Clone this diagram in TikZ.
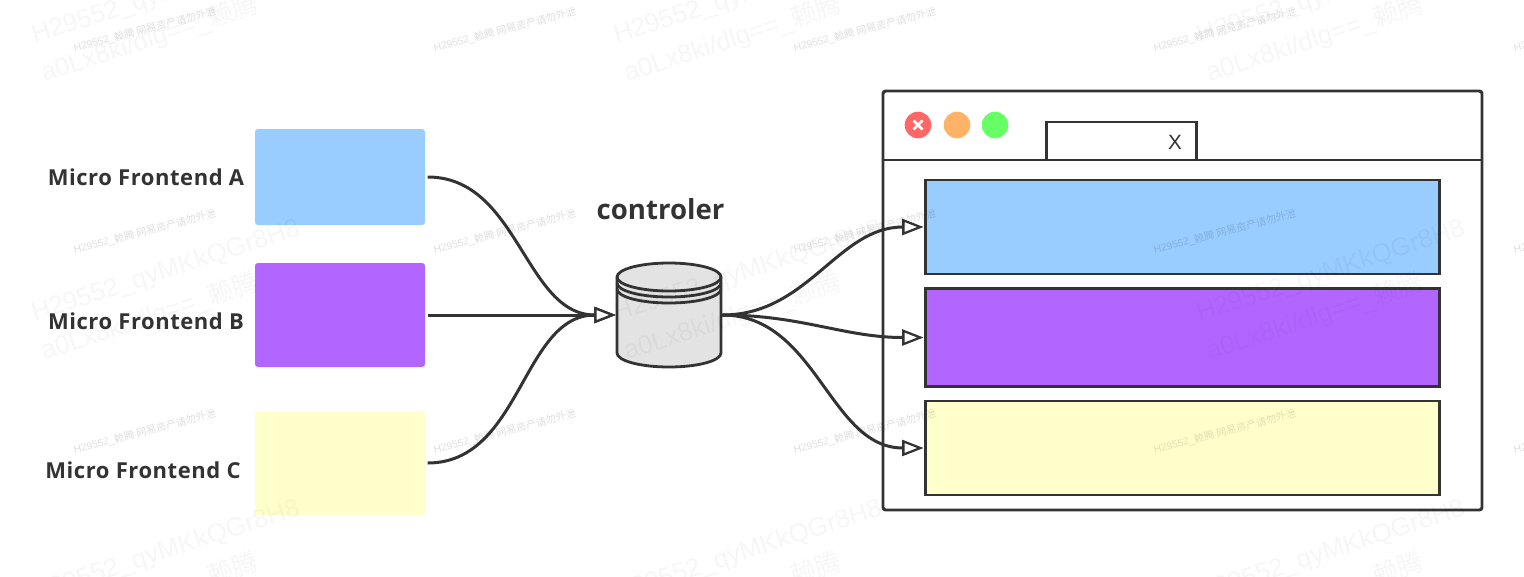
\documentclass[tikz,border=0pt]{standalone}
\usepackage{fontspec}
\setmainfont{Open Sans}
\newfontfamily\wmfont{Liberation Sans}
\newfontfamily\cjk{Noto Sans CJK SC}
\usetikzlibrary{arrows.meta}
\definecolor{linegray}{HTML}{333333}
\definecolor{mfblue}{HTML}{99CCFF}
\definecolor{mfpurple}{HTML}{B266FF}
\definecolor{mfyellow}{HTML}{FFFFCC}
\definecolor{btnr}{HTML}{FF6666}
\definecolor{btno}{HTML}{FFB366}
\definecolor{btng}{HTML}{66FF66}
\tikzset{
  block/.style={minimum width=127.5pt,inner sep=0pt,outer sep=2pt,rounded corners=2.2pt},
  pagebox/.style={draw=linegray,line width=2.2pt,minimum width=386pt,inner sep=0pt,outer sep=1.2pt},
  mflabel/.style={font=\fontsize{16.5}{20}\selectfont\bfseries\addfontfeature{LetterSpace=2.5},text=linegray},
  dot/.style={circle,minimum size=20pt,inner sep=0pt},
  link/.style={draw=linegray,line width=2.25pt},
  linkopen/.style={link,-{Triangle[open,fill=white,length=16pt,width=12pt,line width=1.7pt]}},
  wmsmall/.style={font=\fontsize{7.7}{9}\wmfont,text=black,opacity=.13,rotate=14.5},
  wmbig/.style={font=\fontsize{19.4}{24}\wmfont,text=black,opacity=.035,rotate=18},
}
\begin{document}
\begin{tikzpicture}[x=0.75pt,y=-0.75pt]
\useasboundingbox (0,0) rectangle (1524,576);

%Shape: Left blocks
\node [block,fill=mfblue,minimum height=72pt] (blockA) at (340,177) {};
\node [block,fill=mfpurple,minimum height=78pt] (blockB) at (340,315) {};
\node [block,fill=mfyellow,minimum height=78pt] (blockC) at (340,463) {};

% Text Node
\node [mflabel] (labelA) at (146,177) {Micro Frontend A};
\node [mflabel] (labelB) at (146,321) {Micro Frontend B};
\node [mflabel] (labelC) at (143,470) {Micro Frontend C};
\node [font=\fontsize{20.7}{25}\selectfont\bfseries,text=linegray] (ctrllabel) at (660.5,209) {controler};

%Shape: Window
\draw [draw=linegray,line width=2.2pt,rounded corners=2pt] (883,91) rectangle (1482,510);
\coordinate (barleft) at (883,160);
\coordinate (barright) at (1482,160);
\draw [draw=linegray,line width=2.2pt] (barleft) -- (barright);

%Shape: Circle
\node [dot,fill=btnr] (btnred) at (918,125) {};
\node [dot,fill=btno] (btnorange) at (957,125) {};
\node [dot,fill=btng] (btngreen) at (995,125) {};
\draw [white,line width=1.9pt] (btnred.center) +(-4.5,-4.5) -- +(4.5,4.5) (btnred.center) +(-4.5,4.5) -- +(4.5,-4.5);

%Shape: Tab
\node [draw=linegray,line width=2.2pt,fill=white,minimum width=112pt,minimum height=28.5pt,inner sep=0pt] (tab) at (1121.5,141) {};
\node [font=\fontsize{15.5}{18}\wmfont,text=linegray] (tabx) at (1175,142) {X};

%Shape: Page blocks
\node [pagebox,fill=mfblue,minimum height=70.5pt] (pageA) at (1182.5,227) {};
\node [pagebox,fill=mfpurple,minimum height=74pt] (pageB) at (1182.5,337.5) {};
\node [pagebox,fill=mfyellow,minimum height=70.5pt] (pageC) at (1182.5,448) {};

%Shape: Can
\node [minimum width=78pt,minimum height=78pt,inner sep=0pt,outer sep=1pt] (ctrl) at (669,315) {};
\draw [draw=linegray,line width=2.1pt,fill=black!11] (617,277) -- (617,353) arc [start angle=180,end angle=0,x radius=52,y radius=14] -- (721,277) arc [start angle=0,end angle=-180,x radius=52,y radius=14] -- cycle;
\draw [draw=linegray,line width=2.1pt] (617,277) arc [start angle=180,end angle=0,x radius=52,y radius=14];
\draw [draw=linegray,line width=2.1pt] (617,283) arc [start angle=180,end angle=0,x radius=52,y radius=14];
\draw [draw=linegray,line width=2.1pt] (617,289) arc [start angle=180,end angle=0,x radius=52,y radius=14];

%Curves
\draw [linkopen] (blockA.east) to [out=0,in=180] (ctrl.west);
\draw [linkopen] (blockB.east) -- (ctrl.west);
\draw [linkopen] (blockC.east) to [out=0,in=180] (ctrl.west);
\draw [linkopen] (ctrl.east) to [out=0,in=180] (pageA.west);
\draw [linkopen] (ctrl.east) to [out=0,in=180] (pageB.west);
\draw [linkopen] (ctrl.east) to [out=0,in=180] (pageC.west);

% Text Node
\foreach \px in {145,505,865,1225,1585}
  \foreach \py in {30,232,432}
    \node [wmsmall] at (\px,\py) {H29552\_{\cjk 赖腾 网易资产请勿外泄}};
\foreach \px/\pxb in {166/150,748/733,1331/1315}
  \foreach \py in {-6,272,552}{
    \node [wmbig] at (\px,\py) {H29552\_qyMKkQGr8H8};
    \node [wmbig] at (\pxb,\py+45) {a0Lx8ki/dlg==\_{\cjk 赖腾}};
  }
\end{tikzpicture}
\end{document}
